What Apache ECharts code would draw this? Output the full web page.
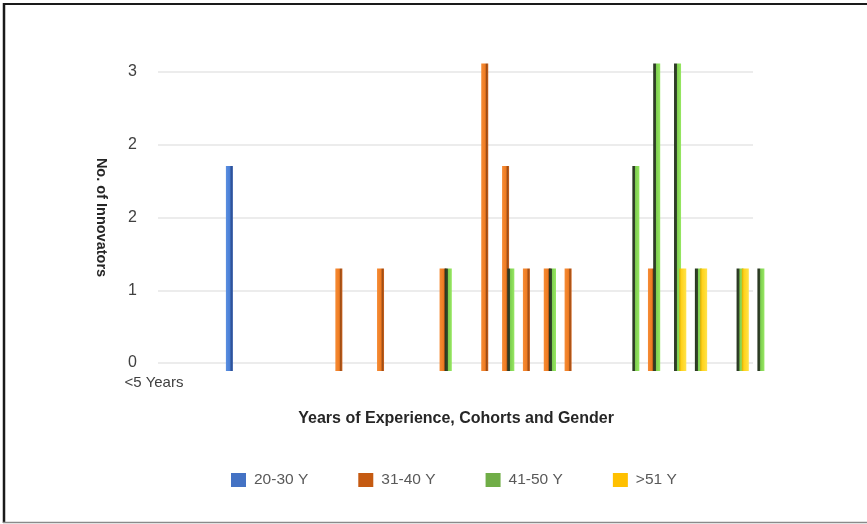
<!DOCTYPE html>
<html>
<head>
<meta charset="utf-8">
<script src="https://cdn.jsdelivr.net/npm/echarts@6/dist/echarts.min.js"></script>
<style>html,body{margin:0;padding:0;background:#fff}#c{width:867px;height:524px}</style>
</head>
<body>
<div id="c"></div>
<script>
// ---- data ----
const categories = ["<5 Years","","","","","","","","","","","","","","","","","","","","","","","","","","","","",""];
const seriesNames = ["20-30 Y", "31-40 Y", "41-50 Y", ">51 Y"];
const cohort20_30 = [0,0,0,0,2,0,0,0,0,0,0,0,0,0,0,0,0,0,0,0,0,0,0,0,0,0,0,0,0,0];
const cohort31_40 = [0,0,0,0,0,0,0,0,0,1,0,1,0,0,1,0,3,2,1,1,1,0,0,0,1,0,0,0,0,0];
const cohort41_50 = [0,0,0,0,0,0,0,0,0,0,0,0,0,0,1,0,0,1,0,1,0,0,0,2,3,3,1,0,1,1];
const cohort51up  = [0,0,0,0,0,0,0,0,0,0,0,0,0,0,0,0,0,0,0,0,0,0,0,0,0,1,1,0,1,0];
const yTicks = [0, 0.75, 1.5, 2.25, 3];
const yName = "No. of Innovators";
const xName = "Years of Experience, Cohorts and Gender";

const legendColors = ["#4472C4", "#C55A11", "#70AD47", "#FFC000"];
const barFills = [
  [[0,'#5b8fe0'],[0.55,'#4a7fd6'],[0.75,'#2c4f94'],[1,'#3a62b0']],
  [[0,'#f58c36'],[0.55,'#f07c22'],[0.75,'#9a4c16'],[1,'#d0621a']],
  [[0,'#26331f'],[0.38,'#34482a'],[0.45,'#7fcf50'],[1,'#97e862']],
  [[0,'#d9ad00'],[0.3,'#ffd21a'],[1,'#ffe34a']]
];
const seriesData = [cohort20_30, cohort31_40, cohort41_50, cohort51up];

function grad(stops){
  return new echarts.graphic.LinearGradient(0,0,1,0, stops.map(s=>({offset:s[0], color:s[1]})));
}

const chart = echarts.init(document.getElementById('c'), null, {renderer:'canvas'});
const FONT = '"Liberation Sans", Arial, sans-serif';

chart.setOption({
  animation: false,
  backgroundColor: '#ffffff',
  textStyle: {fontFamily: FONT},
  grid: [
    {left: 158, right: 114, top: 72, bottom: 161},
    {left: 143.5, right: 98.3, top: 63.5, bottom: 153}
  ],
  xAxis: [
    {type: 'category', gridIndex: 0, data: [''], show: false},
    {type: 'category', gridIndex: 1, data: categories,
     axisLine: {show: false}, axisTick: {show: false},
     axisLabel: {interval: 0, margin: 4, color: '#404040', fontSize: 15, fontFamily: FONT},
     name: xName, nameLocation: 'middle', nameGap: 40,
     nameTextStyle: {fontWeight: 'bold', fontSize: 16, color: '#262626', fontFamily: FONT}}
  ],
  yAxis: [
    {type: 'value', gridIndex: 0, min: yTicks[0], max: yTicks[yTicks.length-1], interval: yTicks[1]-yTicks[0],
     axisLine: {show: false}, axisTick: {show: false},
     axisLabel: {margin: 21, color: '#404040', fontSize: 16, fontFamily: FONT,
       formatter: v => String(Math.round(v))},
     splitLine: {lineStyle: {color: '#e6e6e6', width: 1.6}},
     name: yName, nameLocation: 'middle', nameRotate: -90, nameGap: 50,
     nameTextStyle: {fontWeight: 'bold', fontSize: 14.5, color: '#262626', fontFamily: FONT, padding: [0,0,0,0]}},
    {type: 'value', gridIndex: 1, min: 0, max: 3, show: false, splitLine: {show: false}}
  ],
  legend: {
    left: 226, top: 467, itemWidth: 15, itemHeight: 14, itemGap: 50,
    icon: 'rect',
    textStyle: {color: '#595959', fontSize: 15.5, fontFamily: FONT, padding: [0,0,0,3]},
    data: seriesNames.map((n,i)=>({name: n, itemStyle: {color: legendColors[i]}}))
  },
  series: seriesNames.map((n,i)=>({
    name: n, type: 'bar', xAxisIndex: 1, yAxisIndex: 1,
    data: seriesData[i], barWidth: 7, barGap: '-25%',
    itemStyle: {color: grad(barFills[i])}
  })),
  graphic: [
    {type: 'line', shape: {x1: 3, y1: 4, x2: 867, y2: 4}, style: {stroke: '#1a1a1a', lineWidth: 2}, silent: true},
    {type: 'line', shape: {x1: 4, y1: 3, x2: 4, y2: 523}, style: {stroke: '#1a1a1a', lineWidth: 2.5}, silent: true},
    {type: 'line', shape: {x1: 3, y1: 522.5, x2: 867, y2: 522.5}, style: {stroke: '#8a8a8a', lineWidth: 1.5}, silent: true}
  ]
});
</script>
</body>
</html>
